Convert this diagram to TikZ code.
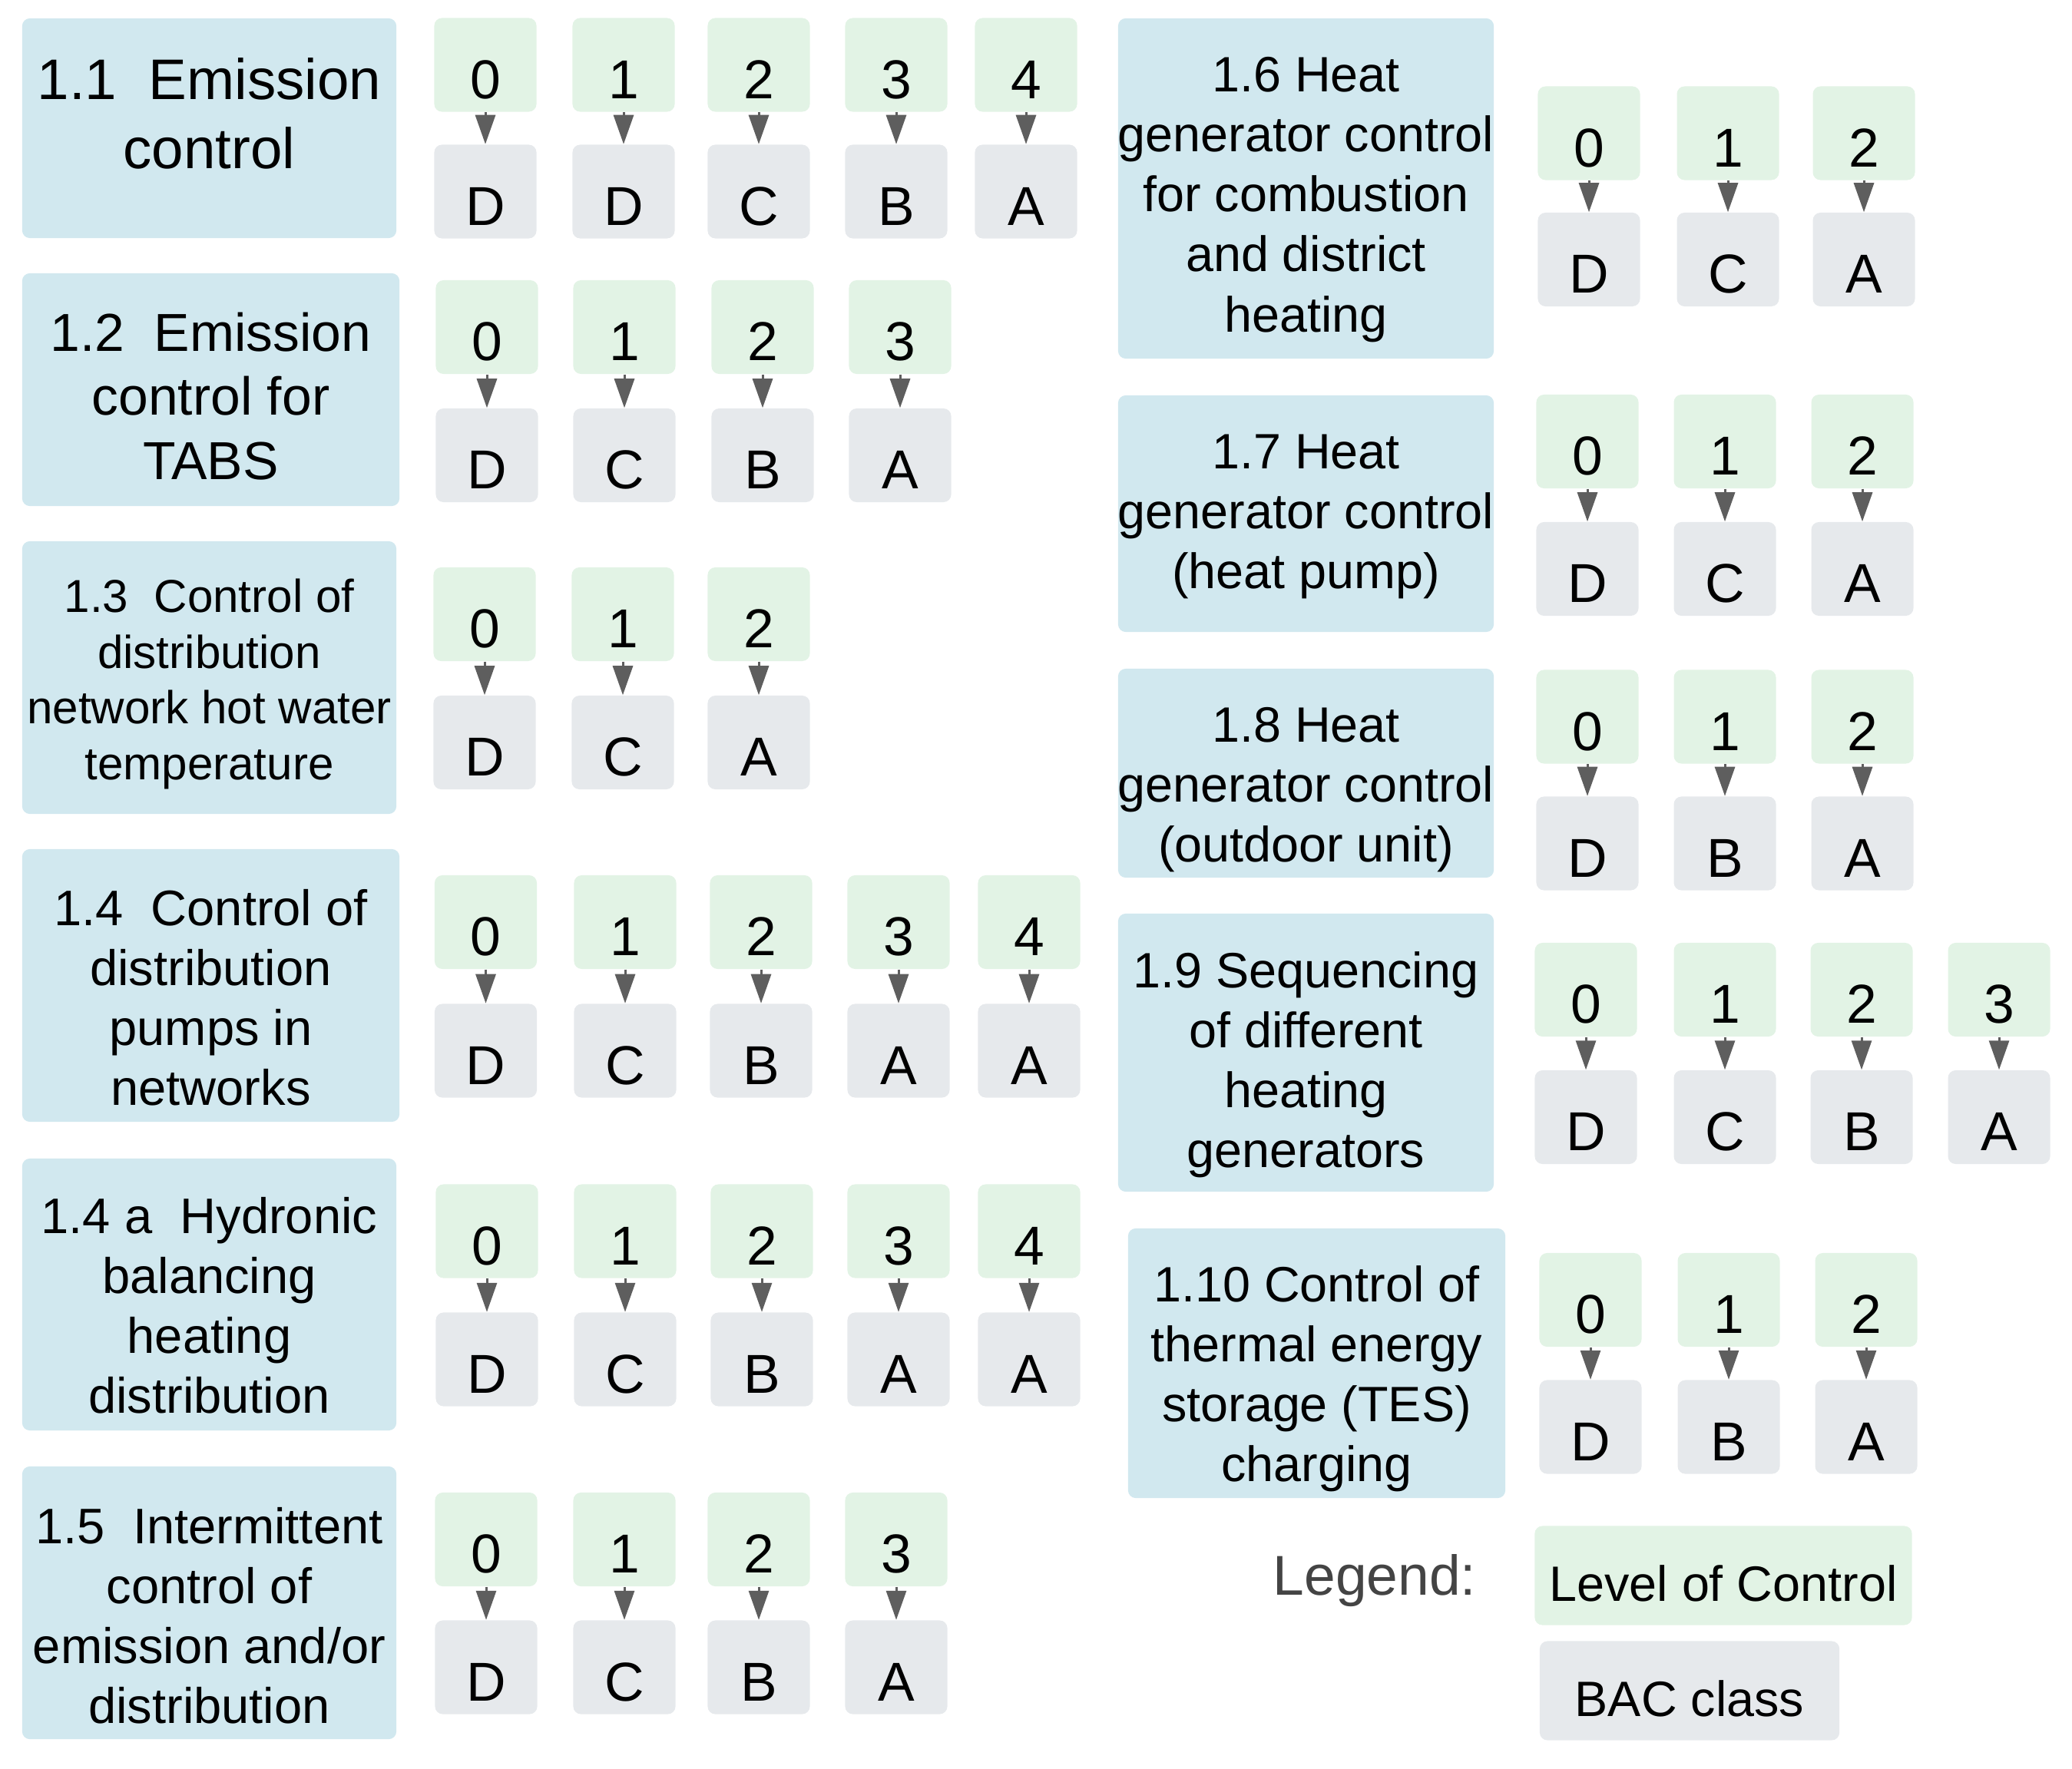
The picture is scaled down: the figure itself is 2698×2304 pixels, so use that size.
\documentclass[tikz,border=0pt]{standalone}
\usepackage{fontspec}
\setmainfont{Liberation Sans}
\usetikzlibrary{arrows.meta}
\definecolor{catblue}{HTML}{D1E8EF}
\definecolor{lvlgreen}{HTML}{E2F3E5}
\definecolor{bacgray}{HTML}{E6E9EC}
\definecolor{arrgray}{HTML}{5E5E5E}
\definecolor{legtext}{HTML}{444444}
\tikzset{
  cat/.style={fill=catblue, rounded corners=0.1cm, inner sep=0pt},
  ttl/.style={align=center, inner sep=0pt, text=black},
  sq/.style={rounded corners=0.1cm, minimum width=1.33cm, minimum height=1.22cm, inner sep=0pt,
     font=\fontsize{20.3}{24}\selectfont, text height=0.872cm, text depth=0cm},
  lvl/.style={sq, fill=lvlgreen},
  bac/.style={sq, fill=bacgray},
  arr/.style={draw=arrgray, line width=0.03cm, -{Triangle[length=0.38cm,width=0.26cm]}},
  legbox/.style={rounded corners=0.1cm, minimum height=1.29cm, inner sep=0pt,
     font=\fontsize{18.4}{22}\selectfont, text height=0.664cm, text depth=0cm},
}
\newcommand{\lvlbac}[6]{%
  \node[lvl] (#1g) at (#2,#3) {#5};
  \node[bac] (#1b) at (#2,#4) {#6};
  \draw[arr] (#1g) -- (#1b);
}
\begin{document}
\begin{tikzpicture}[x=0.01cm, y=-0.01cm]
\useasboundingbox (0,0) rectangle (2698,2304);

% ---- category boxes (left) ----
\node[cat, minimum width=4.87cm, minimum height=2.86cm] (b11) at (272.5,167) {};
\node[ttl, font=\fontsize{21.2}{25.5}\selectfont] (t11) at (272.5,148) {1.1\ \ Emission\\control};

\node[cat, minimum width=4.91cm, minimum height=3.03cm] (b12) at (274.5,507.5) {};
\node[ttl, font=\fontsize{19.8}{23.75}\selectfont] (t12) at (274.5,516) {1.2\ \ Emission\\control for\\TABS};

\node[cat, minimum width=4.87cm, minimum height=3.55cm] (b13) at (272.5,882.5) {};
\node[ttl, font=\fontsize{17.1}{20.6}\selectfont] (t13) at (272.5,891) {1.3\ \ Control of\\distribution\\network hot water\\temperature};

\node[cat, minimum width=4.91cm, minimum height=3.55cm] (b14) at (274.5,1283.5) {};
\node[ttl, font=\fontsize{18.5}{22.2}\selectfont] (t14) at (274.5,1299) {1.4\ \ Control of\\distribution\\pumps in\\networks};

\node[cat, minimum width=4.87cm, minimum height=3.54cm] (b14a) at (272.5,1686) {};
\node[ttl, font=\fontsize{18.5}{22.2}\selectfont] (t14a) at (272.5,1700) {1.4 a\ \ Hydronic\\balancing\\heating\\distribution};

\node[cat, minimum width=4.87cm, minimum height=3.55cm] (b15) at (272.5,2087.5) {};
\node[ttl, font=\fontsize{18.5}{22.2}\selectfont] (t15) at (272.5,2104) {1.5\ \ Intermittent\\control of\\emission and/or\\distribution};

% ---- category boxes (right) ----
\node[cat, minimum width=4.89cm, minimum height=4.43cm] (b16) at (1700.5,245.5) {};
\node[ttl, font=\fontsize{18.4}{22.2}\selectfont] (t16) at (1700.5,260) {1.6 Heat\\generator control\\for combustion\\and district\\heating};

\node[cat, minimum width=4.89cm, minimum height=3.08cm] (b17) at (1700.5,669) {};
\node[ttl, font=\fontsize{18.4}{22.2}\selectfont] (t17) at (1700.5,673) {1.7 Heat\\generator control\\(heat pump)};

\node[cat, minimum width=4.89cm, minimum height=2.72cm] (b18) at (1700.5,1007) {};
\node[ttl, font=\fontsize{18.4}{22.2}\selectfont] (t18) at (1700.5,1029) {1.8 Heat\\generator control\\(outdoor unit)};

\node[cat, minimum width=4.89cm, minimum height=3.62cm] (b19) at (1700.5,1371) {};
\node[ttl, font=\fontsize{18.4}{22.2}\selectfont] (t19) at (1700.5,1387) {1.9 Sequencing\\of different\\heating\\generators};

\node[cat, minimum width=4.91cm, minimum height=3.51cm] (b110) at (1714.5,1775.5) {};
\node[ttl, font=\fontsize{18.4}{22.2}\selectfont] (t110) at (1714.5,1796) {1.10 Control of\\thermal energy\\storage (TES)\\charging};

% ---- level / class pairs ----
% 1.1
\lvlbac{r1a}{632}{84.5}{249.5}{0}{D}
\lvlbac{r1b}{812}{84.5}{249.5}{1}{D}
\lvlbac{r1c}{988}{84.5}{249.5}{2}{C}
\lvlbac{r1d}{1167}{84.5}{249.5}{3}{B}
\lvlbac{r1e}{1336}{84.5}{249.5}{4}{A}
% 1.2
\lvlbac{r2a}{634}{426}{593}{0}{D}
\lvlbac{r2b}{813}{426}{593}{1}{C}
\lvlbac{r2c}{993}{426}{593}{2}{B}
\lvlbac{r2d}{1172}{426}{593}{3}{A}
% 1.3
\lvlbac{r3a}{631}{800}{967}{0}{D}
\lvlbac{r3b}{811}{800}{967}{1}{C}
\lvlbac{r3c}{988}{800}{967}{2}{A}
% 1.4
\lvlbac{r4a}{632.5}{1201}{1368.5}{0}{D}
\lvlbac{r4b}{814}{1201}{1368.5}{1}{C}
\lvlbac{r4c}{991}{1201}{1368.5}{2}{B}
\lvlbac{r4d}{1170}{1201}{1368.5}{3}{A}
\lvlbac{r4e}{1340}{1201}{1368.5}{4}{A}
% 1.4 a
\lvlbac{r5a}{634}{1603.5}{1770.5}{0}{D}
\lvlbac{r5b}{814}{1603.5}{1770.5}{1}{C}
\lvlbac{r5c}{992}{1603.5}{1770.5}{2}{B}
\lvlbac{r5d}{1170}{1603.5}{1770.5}{3}{A}
\lvlbac{r5e}{1340}{1603.5}{1770.5}{4}{A}
% 1.5
\lvlbac{r6a}{633}{2005}{2171.5}{0}{D}
\lvlbac{r6b}{813}{2005}{2171.5}{1}{C}
\lvlbac{r6c}{988}{2005}{2171.5}{2}{B}
\lvlbac{r6d}{1167}{2005}{2171.5}{3}{A}
% 1.6
\lvlbac{r7a}{2069}{173.5}{338}{0}{D}
\lvlbac{r7b}{2250}{173.5}{338}{1}{C}
\lvlbac{r7c}{2427}{173.5}{338}{2}{A}
% 1.7
\lvlbac{r8a}{2067}{575}{741}{0}{D}
\lvlbac{r8b}{2246}{575}{741}{1}{C}
\lvlbac{r8c}{2425}{575}{741}{2}{A}
% 1.8
\lvlbac{r9a}{2067}{933.5}{1098.5}{0}{D}
\lvlbac{r9b}{2246}{933.5}{1098.5}{1}{B}
\lvlbac{r9c}{2425}{933.5}{1098.5}{2}{A}
% 1.9
\lvlbac{r10a}{2065}{1289}{1455}{0}{D}
\lvlbac{r10b}{2246}{1289}{1455}{1}{C}
\lvlbac{r10c}{2424}{1289}{1455}{2}{B}
\lvlbac{r10d}{2603}{1289}{1455}{3}{A}
% 1.10
\lvlbac{r11a}{2071}{1693}{1858.5}{0}{D}
\lvlbac{r11b}{2251}{1693}{1858.5}{1}{B}
\lvlbac{r11c}{2430}{1693}{1858.5}{2}{A}

% ---- legend ----
\node[inner sep=0pt, text=legtext, font=\fontsize{20.8}{25}\selectfont] (leg) at (1790,2059) {Legend:};
\node[legbox, fill=lvlgreen, minimum width=4.91cm] (legl) at (2244,2052) {Level of Control};
\node[legbox, fill=bacgray, minimum width=3.90cm] (legb) at (2200,2202) {BAC class};
\end{tikzpicture}
\end{document}
